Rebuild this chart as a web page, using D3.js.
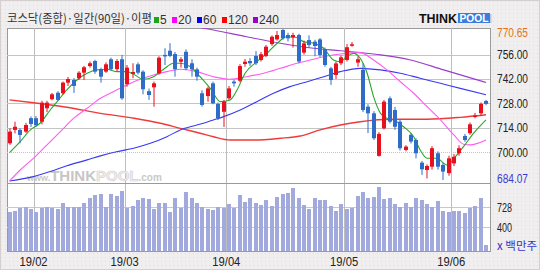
<!DOCTYPE html>
<html>
<head>
<meta charset="utf-8">
<script src="https://cdn.jsdelivr.net/npm/d3@7"></script>
<style>
  body { margin: 0; background: #f0eeee; }
  svg { display: block; }
</style>
</head>
<body>
<div id="chart"></div>
<script>
// daily candles (index 0 = oldest day)
const open = [705.1, 712.8, 712.8, 711.8, 719.5, 719.5, 717.5, 725.2, 730.4, 734.1,
  733.8, 739.9, 741.4, 742.4, 745.6, 749.4, 752.3, 747.6, 746.2, 753.3,
  747.6, 753.3, 739.1, 744.9, 750.4, 746.2, 735.0, 737.2, 745.2, 755.8,
  758.2, 756.3, 751.9, 757.6, 751.0, 747.5, 733.8, 732.2, 739.5, 727.7,
  723.2, 730.9, 740.5, 741.0, 750.6, 752.3, 755.2, 752.9, 755.2, 762.0,
  764.7, 770.1, 767.2, 765.9, 767.2, 757.1, 764.3, 763.4, 764.7, 759.0,
  748.1, 744.3, 751.0, 752.9, 761.3, 751.4, 747.2, 726.1, 722.3, 697.9,
  713.7, 730.9, 724.2, 717.5, 701.3, 710.0, 707.0, 694.0, 689.8, 691.7,
  699.4, 692.7, 688.0, 693.6, 699.4, 709.3, 710.9, 720.5, 722.3, 729.4]
const high = [713.7, 717.5, 713.7, 716.8, 720.5, 720.8, 729.5, 729.5, 734.0, 735.0,
  740.5, 743.2, 742.5, 746.5, 749.5, 752.0, 753.0, 748.5, 751.5, 754.2,
  753.4, 755.8, 750.0, 751.0, 751.5, 747.0, 736.5, 740.5, 755.0, 759.6,
  762.5, 757.5, 754.5, 759.0, 753.3, 748.5, 735.5, 737.6, 740.5, 728.5,
  730.0, 738.0, 741.5, 750.5, 753.5, 754.0, 758.0, 757.5, 761.5, 767.0,
  769.5, 770.65, 768.5, 768.5, 768.0, 764.0, 767.0, 764.5, 765.5, 760.0,
  749.0, 752.0, 755.5, 762.0, 763.2, 755.0, 751.0, 727.5, 723.5, 711.5,
  730.0, 732.0, 726.0, 718.5, 704.0, 711.0, 708.0, 695.0, 693.0, 703.5,
  700.5, 694.0, 698.0, 699.0, 704.0, 710.5, 717.0, 722.5, 728.5, 730.0]
const low = [704.2, 710.8, 705.1, 711.0, 714.5, 714.6, 716.0, 723.0, 729.8, 729.5,
  733.0, 738.0, 734.0, 741.5, 741.4, 748.5, 745.0, 739.9, 745.5, 746.8,
  746.5, 730.0, 737.5, 742.4, 744.5, 733.2, 730.0, 726.1, 744.5, 750.0,
  754.5, 743.3, 748.5, 747.0, 743.3, 741.0, 726.1, 729.0, 727.5, 718.5,
  714.5, 730.0, 737.6, 740.0, 749.0, 749.5, 750.0, 752.0, 754.5, 761.0,
  764.0, 764.5, 763.5, 760.0, 751.0, 756.0, 760.0, 755.0, 754.5, 749.0,
  738.6, 742.0, 750.0, 752.0, 760.5, 749.0, 723.0, 711.0, 707.0, 697.5,
  713.0, 716.5, 712.8, 701.0, 700.5, 705.0, 696.5, 687.0, 685.0, 690.0,
  690.0, 684.07, 686.5, 692.0, 698.0, 706.0, 710.0, 719.5, 721.0, 727.0]
const close = [711.8, 714.6, 709.9, 715.6, 716.2, 715.6, 728.4, 728.4, 733.2, 730.0,
  739.9, 742.0, 738.0, 745.6, 748.7, 751.0, 746.2, 743.3, 750.4, 747.6,
  752.3, 730.9, 748.5, 746.0, 745.6, 736.1, 732.8, 739.5, 754.2, 755.2,
  755.2, 747.6, 753.3, 748.1, 747.5, 743.3, 727.1, 736.6, 728.0, 719.5,
  729.0, 736.6, 739.5, 749.4, 751.9, 751.0, 751.0, 756.2, 760.5, 766.2,
  767.2, 765.3, 765.3, 767.2, 752.0, 762.4, 761.5, 760.9, 755.8, 750.0,
  741.4, 750.9, 754.4, 760.2, 761.9, 753.3, 724.2, 722.3, 708.0, 710.5,
  729.0, 717.5, 714.6, 702.3, 703.2, 706.1, 699.4, 690.2, 692.1, 702.3,
  691.7, 688.9, 696.5, 697.4, 702.3, 707.0, 716.0, 721.1, 727.7, 727.7]

// volume, million shares
const volume = [650, 671, 715, 731, 704, 660, 715, 731, 715, 704,
  797, 742, 742, 742, 797, 879, 944, 960, 742, 960,
  917, 998, 715, 758, 851, 889, 867, 704, 797, 797,
  660, 889, 725, 987, 889, 797, 742, 704, 687, 736,
  715, 781, 725, 944, 823, 889, 797, 769, 846, 758,
  905, 960, 977, 1052, 895, 769, 704, 889, 851, 851,
  753, 671, 781, 704, 725, 917, 987, 895, 905, 1069,
  862, 895, 781, 742, 797, 742, 895, 851, 786, 742,
  840, 671, 660, 671, 671, 633, 725, 758, 895, 103]

// moving averages: [day index, value]
const ma5 = [[0, 699.8], [2, 706.1], [3.9, 712.8], [5.7, 716.6], [7.6, 724.2], [8.9, 729], [10.7, 735.7],
  [12.6, 741.4], [14.5, 745.3], [16.3, 747.2], [18.2, 747.6], [20.1, 746.2], [21.9, 746.2], [23.1, 744.9],
  [25, 741.8], [26.9, 743.3], [28.8, 747.6], [30.6, 751], [31.9, 751], [33.8, 749], [35.6, 743.3],
  [37.5, 736.6], [39.4, 729], [41.2, 730], [42.5, 735.7], [44, 745.3], [46.2, 751.9], [48.1, 756.7],
  [50, 762.5], [51.8, 766.2], [53.4, 765.9], [54.9, 763.4], [56.8, 762.5], [58.7, 759.6], [60.5, 752.9],
  [61.8, 751.9], [63, 754.8], [64.3, 756.7], [65.5, 753.9], [66.8, 745.3], [68, 731.9], [69.3, 722.3],
  [70.5, 719.5], [71.7, 718.5], [73.6, 714.6], [75.5, 708.9], [76.7, 701.3], [78, 696.5], [79.8, 696.5],
  [81.7, 692.7], [83.3, 697.5], [84.8, 703.2], [86.7, 710.9], [89, 718.5]]
const ma20 = [[0, 683.5], [2, 689.8], [4.5, 696.6], [7, 704.2], [9.5, 711.8], [12, 719.5], [14.5, 725.2],
  [17, 730.9], [19.4, 734.7], [21.9, 738.6], [24.4, 741.8], [26.9, 744.3], [29.4, 746.2], [31.9, 747.6],
  [35, 746.2], [38.1, 743.3], [41.2, 741.8], [44.3, 743.3], [47.5, 745.3], [50.6, 748.1], [53.7, 751],
  [56.8, 753.3], [59.3, 755.2], [61.8, 756.3], [65.5, 757.1], [68, 752.9], [70.5, 747.2], [73, 740.4],
  [75.5, 733.8], [78, 726.1], [80.5, 718.5], [83, 709.9], [84.8, 704.6], [86, 704.2], [89, 707]]
const ma60 = [[0, 683.5], [4.5, 686], [7.6, 688.9], [10.7, 692.2], [14.5, 695.6], [17, 697.9], [20, 700.3],
  [23.2, 702.3], [26.3, 705.1], [29.4, 708.9], [31.9, 712.8], [35, 715.6], [38.1, 718.5], [40, 720.4],
  [43.1, 724.2], [46.2, 729], [49.3, 733.8], [52.4, 737.6], [55.6, 740.4], [58.7, 743.3], [61.8, 746.2],
  [65.5, 748.1], [69.3, 747.2], [73, 745.3], [76.7, 742.4], [80.5, 739.5], [84.2, 736.6], [89, 733]]
const ma120 = [[0, 730], [4.5, 728.4], [10.7, 725.8], [17, 722.3], [23.2, 719.5], [28.2, 716.6], [31.9, 713.7],
  [35.6, 710.9], [38.1, 708.9], [41.2, 707], [45.6, 707], [50.6, 708], [54.3, 709.3], [58, 712.8],
  [61.8, 715.6], [65.5, 717.5], [71.7, 718.9], [78, 718.9], [84.2, 720], [89, 721.5]]
const ma240 = [[33, 773], [38.1, 770.1], [44.3, 766.2], [50.6, 762.5], [56.8, 759.6], [61.8, 758.2],
  [65.5, 757.1], [69.3, 755.8], [74.9, 752.9], [81.1, 747.2], [89, 740]]

const priceMax = 770.65
const priceMin = 684.07
const priceTicks = [756, 742, 728, 714, 700]
const volTicks = [728, 400]
const monthLabels = ["19/02", "19/03", "19/04", "19/05", "19/06"]
const monthStart = [5, 22, 41, 63, 83]
const maNames = ["5", "20", "60", "120", "240"]

const W = 540, H = 270
const P = { LEFT: 7, RIGHT: 490, TOP: 28, MID: 183, BOTTOM: 251 }
const UP = "#e8101c", DOWN = "#2f6cc8"
const MA_COLORS = ["#2aa52a", "#ff5cf0", "#3a3af0", "#f03a3a", "#9a3ccc"]
const LEGEND_COLORS = ["#1aa51a", "#ff00ff", "#0000ff", "#ff0000", "#9900cc"]

const svg = d3.select("#chart").append("svg")
    .attr("width", W)
    .attr("height", H)
    .style("font-family", "'Liberation Sans', Arial, sans-serif")

// background + dotted texture
const defs = svg.append("defs")
const pat = defs.append("pattern").attr("id", "dots")
    .attr("width", 4).attr("height", 4).attr("patternUnits", "userSpaceOnUse")
pat.append("rect").attr("width", 4).attr("height", 4).attr("fill", "#f0eeee")
pat.append("rect").attr("x", 1).attr("y", 1).attr("width", 1).attr("height", 1).attr("fill", "#e2dede")
svg.append("rect").attr("width", W).attr("height", H).attr("fill", "url(#dots)")
svg.append("rect").attr("x", 0.5).attr("y", 0.5).attr("width", W - 1).attr("height", H - 1)
    .attr("fill", "none").attr("stroke", "#d4d0d0")

defs.append("clipPath").attr("id", "mainClip")
  .append("rect").attr("x", P.LEFT).attr("y", P.TOP)
    .attr("width", P.RIGHT - P.LEFT).attr("height", P.MID - P.TOP)

// plot area
svg.append("rect")
    .attr("x", P.LEFT + 0.5).attr("y", P.TOP + 0.5)
    .attr("width", P.RIGHT - P.LEFT).attr("height", P.BOTTOM - P.TOP)
    .attr("fill", "#fff").attr("stroke", "#9a9a9a")

const N = close.length
const x = d3.scaleLinear().domain([0, N - 1]).range([9.5, 486])
const step = x(1) - x(0)
const y = d3.scaleLinear().domain([priceMin, priceMax]).range([180, 29])
const yv = d3.scaleLinear().domain([0, 1071]).range([P.BOTTOM, 187])

// grid
svg.append("g").selectAll("line").data(priceTicks).join("line")
    .attr("x1", P.LEFT).attr("x2", P.RIGHT)
    .attr("y1", d => Math.round(y(d)) + 0.5).attr("y2", d => Math.round(y(d)) + 0.5)
    .attr("stroke", "#c4c4c4")
    .attr("stroke-dasharray", d => d === 700 ? "1,1" : null)
svg.append("g").selectAll("line").data(volTicks).join("line")
    .attr("x1", P.LEFT).attr("x2", P.RIGHT)
    .attr("y1", d => Math.round(yv(d)) + 0.5).attr("y2", d => Math.round(yv(d)) + 0.5)
    .attr("stroke", "#c8c8c8")
svg.append("g").selectAll("line").data(monthStart).join("line")
    .attr("x1", d => Math.round(x(d) - step / 2) + 0.5).attr("x2", d => Math.round(x(d) - step / 2) + 0.5)
    .attr("y1", P.TOP).attr("y2", P.BOTTOM)
    .attr("stroke", "#bdbdbd")
svg.append("line")
    .attr("x1", P.LEFT).attr("x2", P.RIGHT)
    .attr("y1", P.MID + 0.5).attr("y2", P.MID + 0.5)
    .attr("stroke", "#9a9a9a")

// watermark
const wm = svg.append("text").attr("x", 27).attr("y", 181)
    .style("font-family", "'Liberation Sans', Arial, sans-serif")
wm.append("tspan").attr("font-size", 9).attr("fill", "#c9c9c9").attr("font-weight", "bold").text("www.")
wm.append("tspan").attr("font-size", 15).attr("font-weight", "bold").attr("fill", "#c6c6c6").text("THINK")
wm.append("tspan").attr("font-size", 15).attr("font-weight", "bold").attr("fill", "#eeeeee")
    .attr("stroke", "#d2d2d2").attr("stroke-width", 0.6).text("POOL")
wm.append("tspan").attr("font-size", 10).attr("fill", "#c9c9c9").attr("font-weight", "bold").text(".com")

// volume bars
svg.append("g").selectAll("rect").data(volume).join("rect")
    .attr("x", (d, i) => Math.round(x(i) - 2))
    .attr("y", d => Math.round(yv(d)))
    .attr("width", 4)
    .attr("height", d => P.BOTTOM - Math.round(yv(d)))
    .attr("fill", "#a2a9dd")

// moving averages
const maG = svg.append("g").attr("clip-path", "url(#mainClip)")
const line = d3.line().x(d => x(d[0])).y(d => y(d[1])).curve(d3.curveMonotoneX)
;[ma240, ma120, ma60, ma20, ma5].forEach((s, k) => {
  maG.append("path").datum(s)
      .attr("d", line)
      .attr("fill", "none")
      .attr("stroke", MA_COLORS[4 - k])
      .attr("stroke-width", k === 1 ? 1.4 : 1.1)
})

// candles
const candles = svg.append("g").attr("clip-path", "url(#mainClip)")
  .selectAll("g").data(close).join("g")
candles.append("rect")
    .attr("x", (d, i) => Math.round(x(i) - 2) + 1.5)
    .attr("width", 1)
    .attr("y", (d, i) => y(high[i]))
    .attr("height", (d, i) => Math.max(1, y(low[i]) - y(high[i])))
    .attr("fill", (d, i) => d >= open[i] ? UP : DOWN)
candles.append("rect")
    .attr("x", (d, i) => Math.round(x(i) - 2))
    .attr("width", 4)
    .attr("y", (d, i) => y(Math.max(open[i], d)))
    .attr("height", (d, i) => Math.max(1.5, Math.abs(y(open[i]) - y(d))))
    .attr("fill", (d, i) => d >= open[i] ? UP : DOWN)

// right axis labels
const rLabels = [{ v: priceMax, t: priceMax.toFixed(2), c: "#e2731a" }]
  .concat(priceTicks.map(v => ({ v, t: v.toFixed(2), c: "#222" })))
  .concat([{ v: priceMin, t: priceMin.toFixed(2), c: "#3a3ad0" }])
svg.append("g").selectAll("text").data(rLabels).join("text")
    .attr("x", 497)
    .attr("y", d => Math.min(Math.max(y(d.v), 32), 178) + 4.5)
    .attr("font-size", 12)
    .attr("fill", d => d.c)
    .attr("textLength", 31)
    .attr("lengthAdjust", "spacingAndGlyphs")
    .text(d => d.t)
svg.append("g").selectAll("text").data(volTicks).join("text")
    .attr("x", 497)
    .attr("y", d => yv(d) + 4.5)
    .attr("font-size", 12)
    .attr("fill", "#222")
    .attr("textLength", 15)
    .attr("lengthAdjust", "spacingAndGlyphs")
    .text(d => d)
svg.append("text")
    .attr("x", 497).attr("y", 250)
    .attr("font-size", 11.5)
    .attr("fill", "#3434c8")
    .style("font-family", "'Noto Sans CJK KR', sans-serif")
    .text("x 백만주")

// month labels
svg.append("g").selectAll("text").data(monthStart).join("text")
    .attr("x", d => x(d) - step / 2)
    .attr("y", 266)
    .attr("text-anchor", "middle")
    .attr("font-size", 12)
    .attr("fill", "#222")
    .attr("textLength", 28)
    .attr("lengthAdjust", "spacingAndGlyphs")
    .text((d, i) => monthLabels[i])

// title & legend
svg.append("text")
    .attr("x", 7).attr("y", 23)
    .attr("font-size", 12)
    .attr("fill", "#333")
    .attr("textLength", 145)
    .attr("lengthAdjust", "spacingAndGlyphs")
    .style("font-family", "'Noto Sans CJK KR', sans-serif")
    .text("코스닥(종합)·일간(90일)·이평")
const legendX = [154, 172, 197, 222, 253]
const legend = svg.append("g").selectAll("g").data(maNames).join("g")
    .attr("transform", (d, i) => `translate(${legendX[i]}, 0)`)
legend.append("rect")
    .attr("y", 17).attr("width", 5).attr("height", 6)
    .attr("fill", (d, i) => LEGEND_COLORS[i])
legend.append("text")
    .attr("x", 6).attr("y", 23.5)
    .attr("font-size", 12)
    .attr("fill", "#333")
    .text(d => d)

// THINKPOOL logo
const logo = svg.append("g").attr("transform", "translate(419, 0)")
logo.append("rect").attr("x", 39).attr("y", 13).attr("width", 32).attr("height", 10).attr("fill", "#3a7ddc")
logo.append("rect").attr("x", 71).attr("y", 14).attr("width", 1.5).attr("height", 9).attr("fill", "#b9c9e6")
logo.append("text").attr("x", 0).attr("y", 22.5)
    .attr("font-weight", "bold").attr("font-size", 12.5).attr("fill", "#111")
    .attr("textLength", 38).attr("lengthAdjust", "spacingAndGlyphs")
    .text("THINK")
logo.append("text").attr("x", 40.5).attr("y", 22.3)
    .attr("font-weight", "bold").attr("font-size", 11.5).attr("fill", "#fff")
    .attr("textLength", 29).attr("lengthAdjust", "spacingAndGlyphs")
    .text("POOL")
</script>
</body>
</html>
